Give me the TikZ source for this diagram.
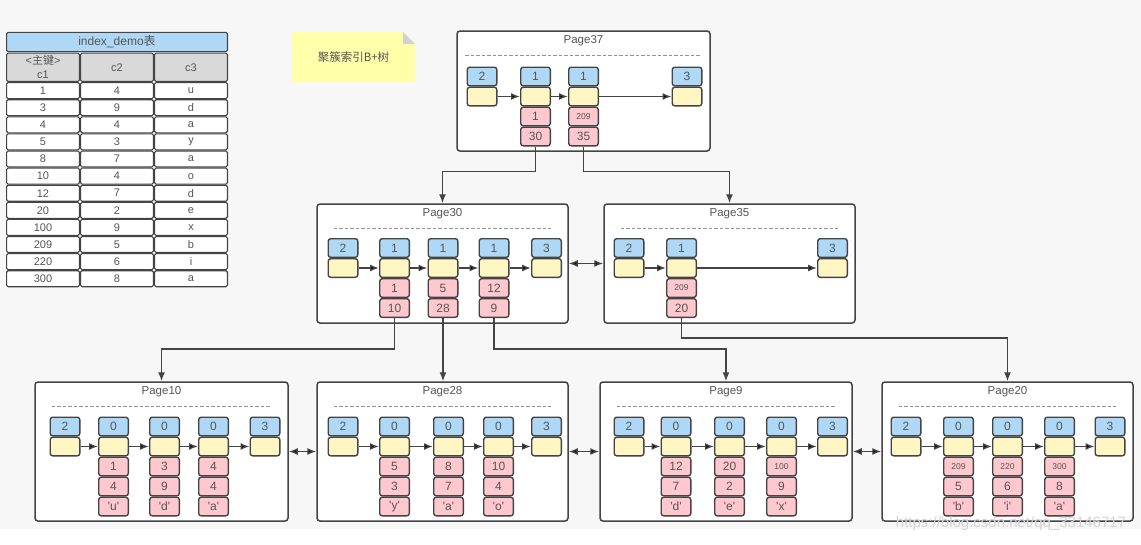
\documentclass[tikz,border=0pt]{standalone}
\usepackage{fontspec}
\setmainfont{Liberation Sans}
\newfontfamily\cjk{Noto Sans CJK SC}
\usetikzlibrary{positioning,arrows.meta,calc}

\definecolor{hdblue}{HTML}{AED8F6}
\definecolor{ptryellow}{HTML}{FFF6C4}
\definecolor{keypink}{HTML}{FFC7CE}
\definecolor{notey}{HTML}{FFFFAA}
\definecolor{bggray}{HTML}{F7F7F7}
\definecolor{edgegray}{HTML}{444444}
\definecolor{txtgray}{HTML}{555555}
\definecolor{hdrgray}{HTML}{D9D9D9}

\newcommand{\smallkey}[1]{{\fontsize{8.5}{9}\selectfont #1}}
\newcommand{\quot}[1]{\textquotesingle#1\textquotesingle}

\newcommand{\pagenode}[7]{% name, cx, cy, width, height, title, rule inset
  \node[pagebox, minimum width=#4pt, minimum height=#5pt] (#1) at (#2,#3) {};
  \node[pagetitle] (#1t) at ($(#1.north)+(0,10)$) {#6};
  \draw[dashrule] ($(#1.north west)+(#7,25.5)$) -- ($(#1.north east)+(-#7,25.5)$);}
\newcommand{\capslot}[4]{% name, x, y, header
  \node[hdcell] (#1) at (#2,#3) {#4};
  \node[ptrcell, below=0pt of #1] (#1p) {};}
\newcommand{\innerslot}[5]{% name, x, y, min key, child page
  \capslot{#1}{#2}{#3}{1}
  \node[keycell, below=0pt of #1p] (#1k) {#4};
  \node[keycell, below=0pt of #1k] (#1c) {#5};}
\newcommand{\leafslot}[6]{% name, x, y, c1, c2, c3
  \capslot{#1}{#2}{#3}{0}
  \node[keycell, below=0pt of #1p] (#1k) {#4};
  \node[keycell, below=0pt of #1k] (#1b) {#5};
  \node[keycell, below=0pt of #1b] (#1c) {#6};}
\newcommand{\tabrow}[5]{% name, y, c1, c2, c3
  \node[tabcell] (#1a) at (43,#2) {#3};
  \node[tabcell, right=0pt of #1a] (#1b) {#4};
  \node[tabcell, right=0pt of #1b] (#1c) {#5};}

\tikzset{
  cell/.style={draw=edgegray, line width=1.4pt, rounded corners=2.5pt, minimum width=29.6pt,
    minimum height=18.6pt, inner sep=0pt, text=txtgray, font=\fontsize{12}{13}\selectfont},
  hdcell/.style={cell, fill=hdblue},
  ptrcell/.style={cell, fill=ptryellow},
  keycell/.style={cell, fill=keypink},
  pagebox/.style={draw=edgegray, line width=1.5pt, rounded corners=3pt, fill=white, inner sep=0pt},
  pagetitle/.style={text=txtgray, font=\fontsize{11.5}{12}\selectfont},
  dashrule/.style={draw=gray!85, line width=0.9pt, dash pattern=on 3.5pt off 2pt},
  link/.style={draw=edgegray, line width=1.4pt, -{Latex[length=9pt,width=7pt]}},
  sibling/.style={draw=edgegray, line width=1.4pt, {Latex[length=9pt,width=7pt]}-{Latex[length=9pt,width=7pt]}},
  tabcell/.style={draw=edgegray, line width=1.1pt, rounded corners=1.5pt, fill=white,
    minimum width=72.9pt, minimum height=16pt, inner sep=0pt, text=txtgray,
    font=\fontsize{11}{12}\selectfont},
}

\begin{document}
\begin{tikzpicture}[x=1pt,y=-1pt]
\useasboundingbox (0,0) rectangle (1141,544);
\fill[white] (0,0) rectangle (1141,544);
\fill[bggray] (0,0) rectangle (1141,529);

% table
\node[tabcell, fill=hdblue, minimum width=220.9pt, minimum height=19.3pt, font=\fontsize{12}{13}\selectfont] (tbl) at (117,42) {index\_demo{\cjk 表}};
\node[tabcell, fill=hdrgray, minimum height=28.3pt, align=center, font=\fontsize{11}{14}\selectfont] (hda) at (43,67.3) {<{\cjk 主键}>\\c1};
\node[tabcell, fill=hdrgray, minimum height=28.3pt, right=0pt of hda] (hdb) {c2};
\node[tabcell, fill=hdrgray, minimum height=28.3pt, right=0pt of hdb] (hdc) {c3};
\tabrow{r1}{90.6}{1}{4}{u}
\tabrow{r2}{107.7}{3}{9}{d}
\tabrow{r3}{124.8}{4}{4}{a}
\tabrow{r4}{141.9}{5}{3}{y}
\tabrow{r5}{159.0}{8}{7}{a}
\tabrow{r6}{176.1}{10}{4}{o}
\tabrow{r7}{193.2}{12}{7}{d}
\tabrow{r8}{210.3}{20}{2}{e}
\tabrow{r9}{227.4}{100}{9}{x}
\tabrow{r10}{244.5}{209}{5}{b}
\tabrow{r11}{261.6}{220}{6}{i}
\tabrow{r12}{278.7}{300}{8}{a}

% note
\fill[notey] (292,32) -- (403,32) -- (415,44) -- (415,82) -- (292,82) -- cycle;
\fill[gray!35] (403,32) -- (403,44) -- (415,44) -- cycle;
\node[text=txtgray, font=\cjk\fontsize{11.5}{12}\selectfont] (note) at (353.5,57) {聚簇索引B+树};

% root
\pagenode{p37}{583.5}{91}{253}{120}{Page37}{9}
\capslot{p37a}{482}{76.5}{2}
\innerslot{p37b}{535.5}{76.5}{1}{30}
\innerslot{p37c}{583.5}{76.5}{\smallkey{209}}{35}
\capslot{p37d}{687}{76.5}{3}
\path[link] (p37ap) edge (p37bp) (p37bp) edge (p37cp) (p37cp) edge (p37dp);

% inner pages
\pagenode{p30}{442.5}{263.5}{251}{119}{Page30}{17.5}
\capslot{p30a}{343}{248}{2}
\innerslot{p30b}{394.5}{248}{1}{10}
\innerslot{p30c}{443}{248}{5}{28}
\innerslot{p30d}{494}{248}{12}{9}
\capslot{p30e}{546.5}{248}{3}
\path[link] (p30ap) edge (p30bp) (p30bp) edge (p30cp) (p30cp) edge (p30dp) (p30dp) edge (p30ep);

\pagenode{p35}{729.5}{263.5}{251}{119}{Page35}{17.5}
\capslot{p35a}{629}{248}{2}
\innerslot{p35b}{681.5}{248}{\smallkey{209}}{20}
\capslot{p35c}{832.5}{248}{3}
\path[link] (p35ap) edge (p35bp) (p35bp) edge (p35cp);

% leaf pages
\pagenode{p10}{161.5}{451.5}{253}{139}{Page10}{17.5}
\capslot{p10a}{65}{426.5}{2}
\leafslot{p10b}{113.5}{426.5}{1}{4}{\quot{u}}
\leafslot{p10c}{164.5}{426.5}{3}{9}{\quot{d}}
\leafslot{p10d}{213.5}{426.5}{4}{4}{\quot{a}}
\capslot{p10e}{265}{426.5}{3}
\path[link] (p10ap) edge (p10bp) (p10bp) edge (p10cp) (p10cp) edge (p10dp) (p10dp) edge (p10ep);

\pagenode{p28}{442.5}{451.5}{251}{139}{Page28}{17.5}
\capslot{p28a}{343}{426.5}{2}
\leafslot{p28b}{394.5}{426.5}{5}{3}{\quot{y}}
\leafslot{p28c}{448.5}{426.5}{8}{7}{\quot{a}}
\leafslot{p28d}{498.5}{426.5}{10}{4}{\quot{o}}
\capslot{p28e}{546.5}{426.5}{3}
\path[link] (p28ap) edge (p28bp) (p28bp) edge (p28cp) (p28cp) edge (p28dp) (p28dp) edge (p28ep);

\pagenode{p9}{726}{451.5}{252}{139}{Page9}{17.5}
\capslot{p9a}{629}{426.5}{2}
\leafslot{p9b}{676}{426.5}{12}{7}{\quot{d}}
\leafslot{p9c}{729.5}{426.5}{20}{2}{\quot{e}}
\leafslot{p9d}{781.5}{426.5}{\smallkey{100}}{9}{\quot{x}}
\capslot{p9e}{832.5}{426.5}{3}
\path[link] (p9ap) edge (p9bp) (p9bp) edge (p9cp) (p9cp) edge (p9dp) (p9dp) edge (p9ep);

\pagenode{p20}{1007.5}{451.5}{251}{139}{Page20}{17.5}
\capslot{p20a}{906}{426.5}{2}
\leafslot{p20b}{958.5}{426.5}{\smallkey{209}}{5}{\quot{b}}
\leafslot{p20c}{1007.5}{426.5}{\smallkey{220}}{6}{\quot{i}}
\leafslot{p20d}{1059.5}{426.5}{\smallkey{300}}{8}{\quot{a}}
\capslot{p20e}{1110}{426.5}{3}
\path[link] (p20ap) edge (p20bp) (p20bp) edge (p20cp) (p20cp) edge (p20dp) (p20dp) edge (p20ep);

% child pointers
\draw[link] (p37bc.south) -- ++(0,25) -| (p30.north);
\draw[link] (p37cc.south) -- ++(0,25) -| (p35.north);
\draw[link] (p30bc.south) -- ++(0,31) -| (p10.north);
\draw[link] (p30cc.south) -- (p30cc.south |- p28.north);
\draw[link] (p30dc.south) -- ++(0,31) -| (p9.north);
\draw[link] (p35bc.south) -- ++(0,20) -| (p20.north);

% sibling links
\path[sibling] (p30) edge (p35) (p10) edge (p28) (p28) edge (p9) (p9) edge (p20);

\node[text=black!17, font=\fontsize{15}{16}\selectfont] (wm) at (1011,524) {https://blog.csdn.net/qq\_33146717};
\end{tikzpicture}
\end{document}
